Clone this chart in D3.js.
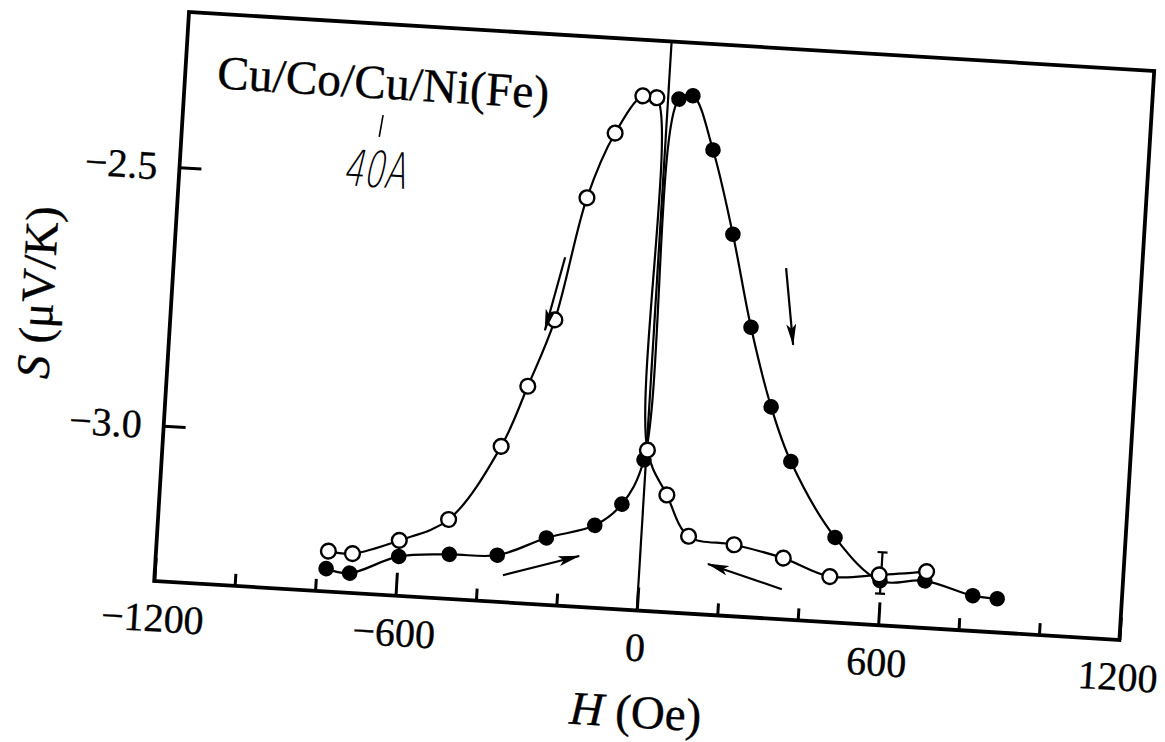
<!DOCTYPE html>
<html>
<head>
<meta charset="utf-8">
<script src="https://cdn.jsdelivr.net/npm/d3@7"></script>
<style>
  html, body { margin: 0; padding: 0; background: #fff; }
  svg { display: block; }
</style>
</head>
<body>
<svg id="chart" width="1165" height="742"></svg>
<script>
// Field axis (Oe) and thermopower axis (µV/K)
const fieldDomain = [-1200, 1200];
const seebeckDomain = [-3.3, -2.2];
const fieldMajorTicks = [-1200, -600, 0, 600, 1200];
const fieldMinorTicks = [-1000, -800, -400, -200, 200, 400, 800, 1000];
const seebeckTicks = [-2.5, -3.0];

// Field sweeping down (open circles), from positive to negative H
const downField = [712, 595, 473, 355, 231, 117, 57, 2, -28, -63, -126, -186, -247, -304, -361, -480, -599, -713, -773];
const downS = [-3.191, -3.203, -3.212, -3.182, -3.162, -3.151, -3.074, -2.990, -2.310, -2.308, -2.383, -2.511, -2.750, -2.881, -3.000, -3.147, -3.193, -3.224, -3.222];

// Field sweeping up (filled circles), from negative to positive H
const upField = [-776, -717, -598, -473, -354, -235, -117, -53, -5, 27, 61, 119, 181, 240, 302, 359, 480, 598, 709, 830, 891];
const upS = [-3.256, -3.262, -3.224, -3.214, -3.210, -3.171, -3.141, -3.097, -3.009, -2.310, -2.302, -2.404, -2.564, -2.741, -2.892, -2.995, -3.136, -3.214, -3.209, -3.232, -3.235];

// Representative error bar
const errField = [600];
const errLow = [-3.239];
const errHigh = [-3.159];

// Sweep-direction arrows: tail and head in data units
const arrowTailH = [-231, 318, -337, 356];
const arrowTailS = [-2.628, -2.623, -3.248, -3.242];
const arrowHeadH = [-270, 347, -151, 169];
const arrowHeadS = [-2.771, -2.770, -3.202, -3.202];

const SERIF = "'Liberation Serif', 'Times New Roman', serif";
const W = 967, H = 570;
const x = d3.scaleLinear().domain(fieldDomain).range([0, W]);
const y = d3.scaleLinear().domain(seebeckDomain).range([H, 0]);

const svg = d3.select("#chart");
svg.append("rect").attr("width", 1165).attr("height", 742).attr("fill", "#fff");

const defs = svg.append("defs");
defs.append("marker")
  .attr("id", "head")
  .attr("viewBox", "0 0 22 10")
  .attr("refX", 21).attr("refY", 5)
  .attr("markerWidth", 22).attr("markerHeight", 10)
  .attr("markerUnits", "userSpaceOnUse")
  .attr("orient", "auto")
  .append("path")
  .attr("d", "M0,0 L22,5 L0,10 L5,5 Z")
  .attr("fill", "#000");

const g = svg.append("g").attr("transform", "translate(189,12) rotate(3.5)");

function styleText(sel, size) {
  sel.attr("font-size", size).attr("font-family", SERIF)
    .attr("fill", "#000").attr("stroke", "#000").attr("stroke-width", 0.35);
}

// minor ticks on field axis
g.append("g")
  .attr("transform", `translate(0,${H})`)
  .call(d3.axisBottom(x).tickValues(fieldMinorTicks).tickSize(-12).tickFormat(""))
  .call(a => a.select(".domain").remove())
  .call(a => a.selectAll("line").attr("stroke", "#000").attr("stroke-width", 3));

// major ticks and labels on field axis
g.append("g")
  .attr("transform", `translate(0,${H})`)
  .call(d3.axisBottom(x).tickValues(fieldMajorTicks).tickSize(-23).tickPadding(22).tickFormat(d3.format("d")))
  .call(a => a.select(".domain").remove())
  .call(a => a.selectAll("line").attr("stroke", "#000").attr("stroke-width", 3))
  .call(a => styleText(a.selectAll("text"), 40));

// thermopower axis
g.append("g")
  .call(d3.axisLeft(y).tickValues(seebeckTicks).tickSize(-22).tickPadding(22).tickFormat(d3.format(".1f")))
  .call(a => a.select(".domain").remove())
  .call(a => a.selectAll("line").attr("stroke", "#000").attr("stroke-width", 3))
  .call(a => styleText(a.selectAll("text"), 40));

// frame
g.append("rect")
  .attr("x", 0).attr("y", 0).attr("width", W).attr("height", H)
  .attr("fill", "none").attr("stroke", "#000").attr("stroke-width", 3.8);

// H = 0 line
g.append("line")
  .attr("x1", x(0)).attr("x2", x(0)).attr("y1", 0).attr("y2", H)
  .attr("stroke", "#000").attr("stroke-width", 2.2);

// curves
const line = d3.line().x(d => x(d[0])).y(d => y(d[1])).curve(d3.curveCatmullRom.alpha(0.5));
const downPts = downField.map((h, i) => [h, downS[i]]);
const upPts = upField.map((h, i) => [h, upS[i]]);

g.append("path").datum(upPts).attr("d", line)
  .attr("fill", "none").attr("stroke", "#000").attr("stroke-width", 2.2);
g.append("path").datum(downPts).attr("d", line)
  .attr("fill", "none").attr("stroke", "#000").attr("stroke-width", 2.2);

// error bar
errField.forEach((h, i) => {
  const eb = g.append("g").attr("stroke", "#000").attr("stroke-width", 2.2);
  eb.append("line").attr("x1", x(h)).attr("x2", x(h)).attr("y1", y(errLow[i])).attr("y2", y(errHigh[i]));
  eb.append("line").attr("x1", x(h) - 5).attr("x2", x(h) + 5).attr("y1", y(errLow[i])).attr("y2", y(errLow[i]));
  eb.append("line").attr("x1", x(h) - 5).attr("x2", x(h) + 5).attr("y1", y(errHigh[i])).attr("y2", y(errHigh[i]));
});

// markers
g.append("g").selectAll("circle").data(upPts).join("circle")
  .attr("cx", d => x(d[0])).attr("cy", d => y(d[1])).attr("r", 7.8)
  .attr("fill", "#000");
g.append("g").selectAll("circle").data(downPts).join("circle")
  .attr("cx", d => x(d[0])).attr("cy", d => y(d[1])).attr("r", 7.4)
  .attr("fill", "#fff").attr("stroke", "#000").attr("stroke-width", 2.4);

// sweep arrows
g.append("g").selectAll("line").data(arrowTailH).join("line")
  .attr("x1", (d, i) => x(d)).attr("y1", (d, i) => y(arrowTailS[i]))
  .attr("x2", (d, i) => x(arrowHeadH[i])).attr("y2", (d, i) => y(arrowHeadS[i]))
  .attr("stroke", "#000").attr("stroke-width", 2.2)
  .attr("marker-end", "url(#head)");

// sample label
g.append("text")
  .attr("x", 32).attr("y", 74.5)
  .call(t => styleText(t, 47.5))
  .text("Cu/Co/Cu/Ni(Fe)");

// handwritten spacer note
g.append("line")
  .attr("x1", 200).attr("y1", 91).attr("x2", 197.5).attr("y2", 113)
  .attr("stroke", "#000").attr("stroke-width", 1.6);
g.append("text")
  .attr("transform", "translate(198,146) skewX(-10)")
  .attr("text-anchor", "middle").attr("dominant-baseline", "central")
  .attr("font-family", "'DejaVu Sans', sans-serif").attr("font-weight", 200)
  .attr("font-size", 50).attr("fill", "#000")
  .attr("textLength", 63).attr("lengthAdjust", "spacingAndGlyphs")
  .text("40A");

// axis titles
const yTitle = g.append("text")
  .attr("transform", `translate(-134,${H / 2 + 4}) rotate(-90)`)
  .attr("text-anchor", "middle").attr("dominant-baseline", "central")
  .call(t => styleText(t, 47));
yTitle.append("tspan").attr("font-style", "italic").text("S");
yTitle.append("tspan").text(" (μV/K)");

const xTitle = g.append("text")
  .attr("x", W / 2 + 5).attr("y", H + 117)
  .attr("text-anchor", "middle")
  .call(t => styleText(t, 47));
xTitle.append("tspan").attr("font-style", "italic").text("H");
xTitle.append("tspan").text(" (Oe)");
</script>
</body>
</html>
